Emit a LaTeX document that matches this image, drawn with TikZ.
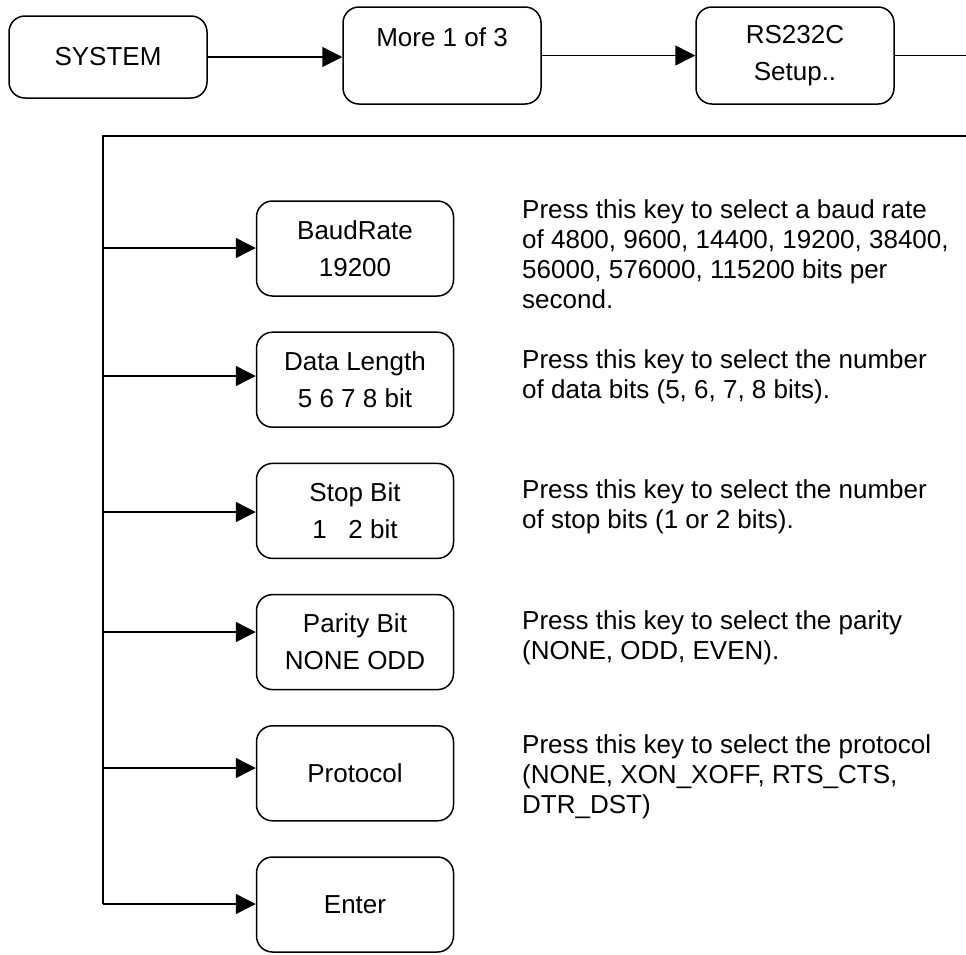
\documentclass[tikz,border=0pt]{standalone}
\usepackage{fontspec}
\setmainfont{Liberation Sans}
\usetikzlibrary{arrows.meta,positioning}

\tikzset{
  key/.style={draw, line width=1.5pt, rounded corners=16pt, minimum width=197pt,
    minimum height=95pt, align=center, inner sep=0pt,
    font=\fontsize{26}{37}\selectfont},
  desc/.style={anchor=base west, align=left, inner sep=0pt,
    font=\fontsize{26}{30}\selectfont},
  wire/.style={line width=1.5pt},
  arr/.style={wire, -{Triangle[length=20pt,width=20pt]}}
}

\begin{document}
\begin{tikzpicture}[x=1pt,y=-1pt,node distance=34.7pt]
\useasboundingbox (0,0) rectangle (966,954);
% Menu path
\node[key, minimum width=198pt, minimum height=82pt] (sys) at (108,57) {SYSTEM};
\node[key, minimum width=198pt, minimum height=97pt] (more) at (442,55.5) {More 1 of 3\\ \mbox{}};
\node[key, minimum width=198pt, minimum height=97pt] (rs) at (795,55.5) {RS232C\\Setup..};
\coordinate (rsOut) at (966,55.5);
\draw[arr] (sys.east) -- (sys.east -| more.west);
\draw[arr] (more.east) -- (more.east -| rs.west);
\draw[wire] (rs.east) -- (rsOut);
% Soft keys
\node[key] (baud) at (355,248.5) {BaudRate\\19200};
\node[key, below=of baud] (data) {Data Length\\5 6 7 8 bit};
\node[key, below=of data] (stop) {Stop Bit\\1\ \ \ 2 bit};
\node[key, below=of stop] (parity) {Parity Bit\\NONE ODD};
\node[key, below=of parity] (proto) {Protocol};
\node[key, below=of proto] (enter) {Enter};
% Branches
\coordinate (loopIn) at (966,136);
\coordinate (trunkTop) at (103,136);
\foreach \n/\y in {baud/248,data/376,stop/512,parity/632,proto/768,enter/904}{
  \coordinate (br\n) at (103,\y);
  \draw[arr] (br\n) -- (br\n -| \n.west);
}
\draw[wire] (loopIn) -- (trunkTop) -- (brenter);
% Help texts (placed at the baseline of their last line)
\node[desc] (dBaud) at (522,308) {Press this key to select a baud rate\\of 4800, 9600, 14400, 19200, 38400,\\56000, 576000, 115200 bits per\\second.};
\node[desc] (dData) at (522,398) {Press this key to select the number\\of data bits (5, 6, 7, 8 bits).};
\node[desc] (dStop) at (522,528) {Press this key to select the number\\of stop bits (1 or 2 bits).};
\node[desc] (dParity) at (522,659) {Press this key to select the parity\\(NONE, ODD, EVEN).};
\node[desc] (dProto) at (522,813) {Press this key to select the protocol\\(NONE, XON\_XOFF, RTS\_CTS,\\DTR\_DST)};
\end{tikzpicture}
\end{document}
